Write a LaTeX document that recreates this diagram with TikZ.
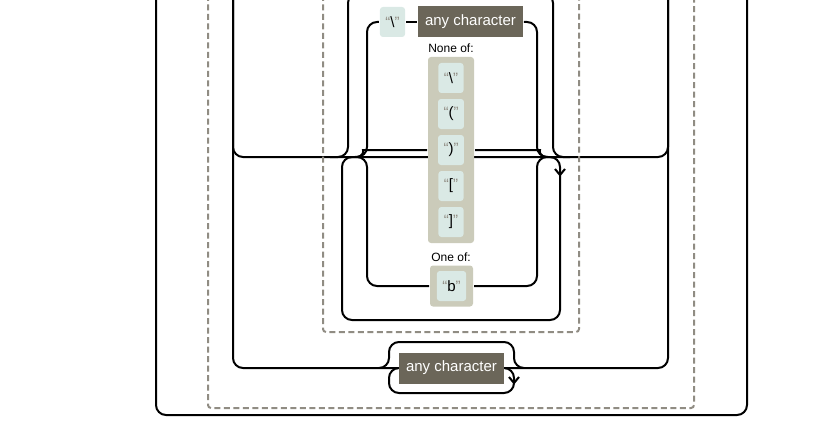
\documentclass[tikz,border=0pt]{standalone}
\usepackage{fontspec}
\setmainfont{Liberation Sans}
\usepackage{tikz}
\usetikzlibrary{positioning,backgrounds}

\definecolor{litfill}{HTML}{DAE9E5}
\definecolor{anyfill}{HTML}{6B6659}
\definecolor{setfill}{HTML}{CBCBBA}
\definecolor{quotegray}{HTML}{908C83}

\newcommand{\lit}[1]{\textcolor{quotegray}{“}#1\textcolor{quotegray}{”}}

\begin{document}
\begin{tikzpicture}[
     x = 1pt, y = -1pt, % pixel grid, y grows downwards
     node distance = 36pt, % spacing of the set members
     line width = 2pt % line style
 ]

 \tikzstyle{rail} = [
     draw = black,
     line width = 2pt,
     rounded corners = 10pt
 ]
 \tikzstyle{groupframe} = [
     draw = quotegray,
     line width = 2pt,
     dash pattern = on 6pt off 3.5pt,
     rounded corners = 3pt
 ]
 \tikzstyle{chevron} = [
     draw = black,
     line width = 2pt
 ]
 \tikzstyle{literal} = [
     fill = litfill,
     rounded corners = 3pt,
     minimum height = 30pt,
     inner xsep = 5.5pt,
     inner ysep = 0pt,
     font = \fontsize{15}{18}\selectfont
 ]
 \tikzstyle{anychar} = [
     fill = anyfill,
     text = white,
     minimum height = 31pt,
     inner xsep = 7pt,
     font = \fontsize{15}{18}\selectfont
 ]
 \tikzstyle{charset} = [
     fill = setfill,
     rounded corners = 3pt
 ]
 \tikzstyle{settitle} = [
     inner sep = 0pt,
     font = \fontsize{12}{14}\selectfont
 ]

 \useasboundingbox (0,0) rectangle (825,428);
 \clip (0,0) rectangle (825,428);

 \node[literal] (bslash) at (392.5,22) {\lit{\textbackslash}};
 \node[anychar] (anytop) at (470.5,22) {any character};
 \node[settitle] (nonetitle) at (451,48) {None of:};
 \node[charset, minimum width = 46pt, minimum height = 186pt] (noneof) at (451,150) {};
 \node[literal] (nbslash) at (451,78) {\lit{\textbackslash}};
 \node[literal] (nlparen) [below of=nbslash] {\lit{(}};
 \node[literal] (nrparen) [below of=nlparen] {\lit{)}};
 \node[literal] (nlbrack) [below of=nrparen] {\lit{[}};
 \node[literal] (nrbrack) [below of=nlbrack] {\lit{]}};
 \node[settitle] (onetitle) at (451,257) {One of:};
 \node[charset, minimum width = 43pt, minimum height = 41pt] (oneof) at (451.5,286) {};
 \node[literal] (bchar) at (oneof) {\lit{b}};
 \node[anychar] (anybot) at (451.5,368) {any character};

 \begin{scope}[on background layer]
 % outer loop and outer group
 \coordinate (outerL) at (156,-5);
 \coordinate (outerR) at (747,-5);
 \draw[rail] (outerL) -- (156,415) -- (747,415) -- (outerR);
 \draw[groupframe] (208,-5) -- (208,408) -- (694,408) -- (694,-5);

 % alternation
 \coordinate (altL) at (233,-5);
 \coordinate (altR) at (668,-5);
 \coordinate (joinL) at (233,157);
 \coordinate (joinR) at (668,157);
 \draw[rail] (altL) -- (joinL) -- (joinR) -- (altR);
 \draw[rail] (altL) -- (233,368) -- (anybot.west);
 \draw[rail] (anybot.east) -- (668,368) -- (altR);

 % skip and repeat of the lower any character
 \draw[rail] (379,368) -- (389,368) -- (389,342) -- (514,342) -- (514,368) -- (524,368);
 \draw[rail] (anybot.east) -- (514,368) -- (514,393) -- (389,393) -- (389,368) -- (anybot.west);
 \coordinate (anytip) at (514,383);
 \draw[chevron] ([shift={(-5,-6)}]anytip) -- (anytip) -- ++(5,-6);

 % inner group
 \draw[groupframe] (323,-5) -- (323,332) -- (579,332) -- (579,-5);
 \draw[rail] (358,-7) -- (348,-7) -- (348,157) -- (330,157);
 \draw[rail] (543,-7) -- (553,-7) -- (553,157) -- (570,157);

 % repeat of the inner group
 \draw[rail] (352,157) -- (342,157) -- (342,320) -- (560,320) -- (560,157) -- (550,157);
 \coordinate (looptip) at (560,175);
 \draw[chevron] ([shift={(-5,-6)}]looptip) -- (looptip) -- ++(5,-6);

 % upper branch
 \draw[rail] (350,157) -- (367,157) -- (367,22) -- (bslash.west);
 \draw[rail] (bslash.east) -- (anytop.west);
 \draw[rail] (anytop.east) -- (537,22) -- (537,157) -- (555,157);

 % middle branch
 \draw[rail] (355,157) .. controls (365,157) and (363,150) .. (373,150) -- (noneof.west);
 \draw[rail] (noneof.east) -- (530,150) .. controls (540,150) and (538,157) .. (548,157);

 % lower branch
 \draw[rail] (357,157) -- (367,157) -- (367,286) -- (oneof.west);
 \draw[rail] (oneof.east) -- (537,286) -- (537,157) -- (547,157);
 \end{scope}
\end{tikzpicture}
\end{document}
